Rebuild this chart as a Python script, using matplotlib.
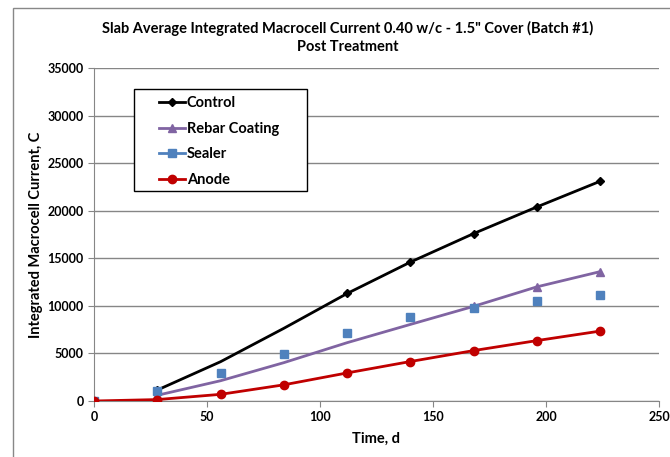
import matplotlib
matplotlib.use("Agg")
import matplotlib.pyplot as plt
from matplotlib.patches import Rectangle

plt.rcParams['font.family'] = ['Lato', 'DejaVu Sans']

days_ctrl = [28, 56, 84, 112, 140, 168, 196, 224]
control = [1150, 4130, 7640, 11300, 14600, 17600, 20400, 23100]
days_rebar = [28, 56, 84, 112, 140, 168, 196, 224]
rebar = [600, 2130, 4030, 6130, 8050, 9950, 12000, 13600]
days_all = [0, 28, 56, 84, 112, 140, 168, 196, 224]
sealer = [0, 1050, 2980, 4900, 7150, 8850, 9800, 10550, 11100]
anode = [0, 150, 700, 1700, 2950, 4150, 5300, 6350, 7350]

series_names = ["Control", "Rebar Coating", "Sealer", "Anode"]
title = 'Slab Average Integrated Macrocell Current 0.40 w/c - 1.5" Cover (Batch #1)\nPost Treatment'
xticks = [0, 50, 100, 150, 200, 250]
yticks = [0, 5000, 10000, 15000, 20000, 25000, 30000, 35000]

W, H = 670, 457
fig = plt.figure(figsize=(W/100, H/100), dpi=100)
fig.patches.append(Rectangle((13/W, -0.1), 1.2, 1 - 8/H + 0.1, transform=fig.transFigure,
                             fill=False, edgecolor='#888888', linewidth=1.0))
ax = fig.add_axes([94/W, 1 - 401/H, (659 - 94)/W, (401 - 68)/H])

ax.plot(days_ctrl, control, color='black', lw=2, marker='D', ms=4.5, markevery=[0, 3, 4, 5, 6, 7],
        label=series_names[0], zorder=3)
ax.plot(days_rebar, rebar, color='#8064A2', lw=2, marker='^', ms=6, markevery=[0, 5, 6, 7],
        label=series_names[1], zorder=3)
ax.plot(days_all, sealer, color='#4F81BD', lw=0, marker='s', ms=6.3, label=series_names[2], zorder=4)
ax.plot(days_all, anode, color='#C00000', lw=2, marker='o', ms=6, label=series_names[3], zorder=5)

ax.set_xlim(0, 250)
ax.set_ylim(0, 35000)
ax.set_xticks(xticks)
ax.set_yticks(yticks)
ax.tick_params(axis='both', labelsize=9, color='#868686', length=4, direction='out')
for lab in ax.get_xticklabels() + ax.get_yticklabels():
    lab.set_fontweight('bold')
ax.yaxis.grid(True, color='#868686', lw=1)
ax.set_axisbelow(True)
for s in ['top', 'right']:
    ax.spines[s].set_visible(False)
for s in ['left', 'bottom']:
    ax.spines[s].set_color('#868686')

ax.set_xlabel('Time, d', fontsize=10.5, fontweight='bold', labelpad=6)
ax.set_ylabel('Integrated Macrocell Current, C', fontsize=10.5, fontweight='bold', labelpad=3)
fig.text(348/W, 1 - 21/H, title, ha='center', va='top',
         fontsize=10.5, fontweight='bold', linespacing=1.4)

# legend frame drawn separately to match wide inner padding
fig.patches.append(Rectangle((134/W, 1 - 191/H), (307 - 134)/W, (191 - 89)/H,
                             transform=fig.transFigure, facecolor='white', edgecolor='black',
                             linewidth=1.0, zorder=6))
sealer_handle = plt.Line2D([], [], color='#4F81BD', lw=2, marker='s', ms=6.3)
handles, labels = ax.get_legend_handles_labels()
handles[2] = sealer_handle
leg = fig.legend(handles, labels, loc='upper left', bbox_to_anchor=(159/W, 1 - 96/H),
                 frameon=False, prop={'weight': 'bold', 'size': 10.5}, handlelength=1.8,
                 handletextpad=0.1, labelspacing=0.8, borderpad=0, borderaxespad=0)
leg.set_zorder(7)

fig.savefig('out.png', dpi=100)
